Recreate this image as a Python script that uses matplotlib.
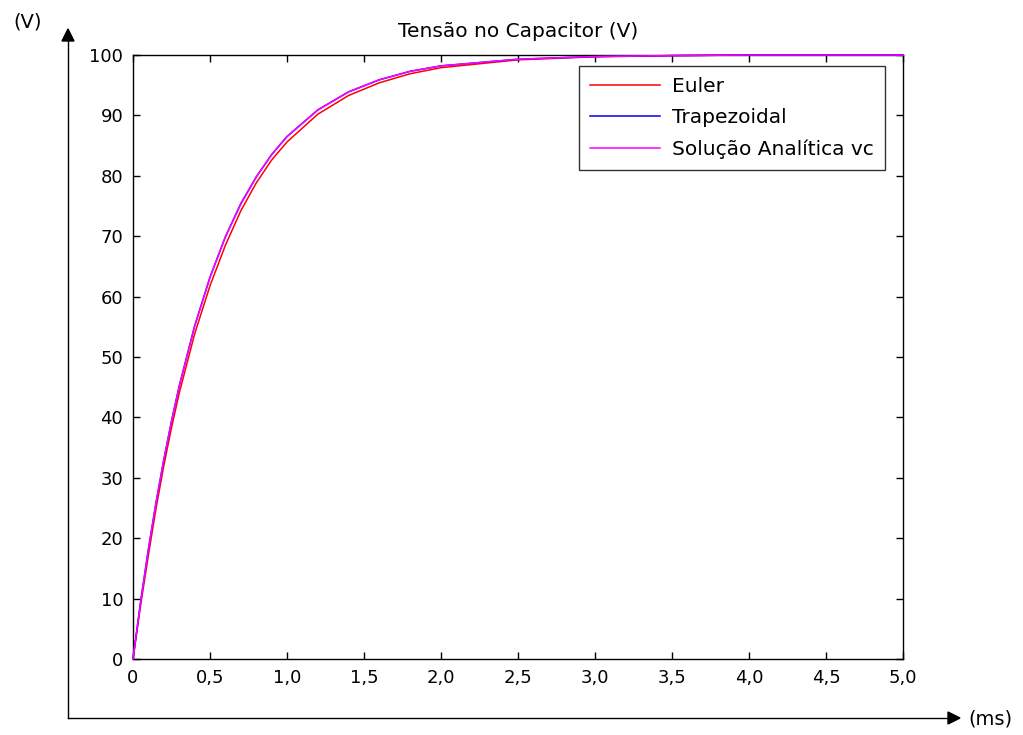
import numpy as np
import matplotlib
matplotlib.use("Agg")
import matplotlib.pyplot as plt

# tempo (ms) e tensões (V)
t = [0, 0.05, 0.1, 0.15, 0.2, 0.25, 0.3, 0.4, 0.5, 0.6, 0.7, 0.8, 0.9, 1.0,
     1.2, 1.4, 1.6, 1.8, 2.0, 2.5, 3.0, 3.5, 4.0, 4.5, 5.0]
v_euler = [0, 9.0, 17.2, 25.0, 32.0, 38.3, 44.0, 53.8, 61.8, 68.5, 74.2, 78.8,
           82.6, 85.6, 90.2, 93.3, 95.4, 96.9, 97.9, 99.2, 99.7, 99.9, 100, 100, 100]
v_trap = [0, 9.6, 18.2, 26.0, 33.0, 39.4, 45.2, 55.1, 63.2, 69.9, 75.4, 79.8,
          83.5, 86.5, 90.9, 93.9, 95.9, 97.3, 98.2, 99.3, 99.75, 99.9, 100, 100, 100]
v_anal = [0, 9.5, 18.1, 25.9, 33.0, 39.3, 45.1, 55.1, 63.2, 69.9, 75.3, 79.8,
          83.5, 86.5, 90.9, 93.9, 95.9, 97.3, 98.2, 99.3, 99.75, 99.9, 100, 100, 100]

xticks = np.arange(0, 5.01, 0.5)
xlabels = ["0", "0,5", "1,0", "1,5", "2,0", "2,5", "3,0", "3,5", "4,0", "4,5", "5,0"]
yticks = np.arange(0, 101, 10)

W, H = 1023, 735
fig = plt.figure(figsize=(W / 100, H / 100), dpi=100)
ax = fig.add_axes([133 / W, 1 - 659 / H, (903 - 133) / W, (659 - 55) / H])

ax.plot(t, v_euler, color="#ff0000", lw=1.1, label="Euler", zorder=3, clip_on=False)
ax.plot(t, v_trap, color="#0000ff", lw=1.1, label="Trapezoidal", zorder=3, clip_on=False)
ax.plot(t, v_anal, color="#ff00ff", lw=1.1, label="Solução Analítica vc", zorder=3, clip_on=False)

ax.set_xlim(0, 5)
ax.set_ylim(0, 100)
ax.set_xticks(xticks)
ax.set_xticklabels(xlabels)
ax.set_yticks(yticks)
ax.tick_params(direction="in", length=5, width=1, top=True, right=True,
               labelsize=13, colors="black", pad=7)
for s in ax.spines.values():
    s.set_linewidth(1)
ax.set_title("Tensão no Capacitor (V)", fontsize=14.5, pad=13)

leg = ax.legend(loc="upper right", bbox_to_anchor=(0.977, 0.982), fontsize=14.5,
                frameon=True, fancybox=False, edgecolor="black", handlelength=3.5,
                borderpad=0.55, labelspacing=0.6, handletextpad=0.6, borderaxespad=0)
leg.get_frame().set_linewidth(1)
leg.set_zorder(5)

# eixos externos com setas
ax2 = fig.add_axes([0, 0, 1, 1], facecolor="none")
ax2.set_axis_off()
ax2.set_xlim(0, W)
ax2.set_ylim(H, 0)
ax2.plot([68, 68], [718, 40], color="black", lw=1)
ax2.plot([68, 950], [718, 718], color="black", lw=1)
ax2.fill([62, 74, 68], [41, 41, 29], color="black")
ax2.fill([948, 948, 960], [712, 724, 718], color="black")
ax2.text(28, 22, "(V)", fontsize=14, ha="center", va="center")
ax2.text(990, 719, "(ms)", fontsize=14, ha="center", va="center")

fig.savefig("out.png", dpi=100)
